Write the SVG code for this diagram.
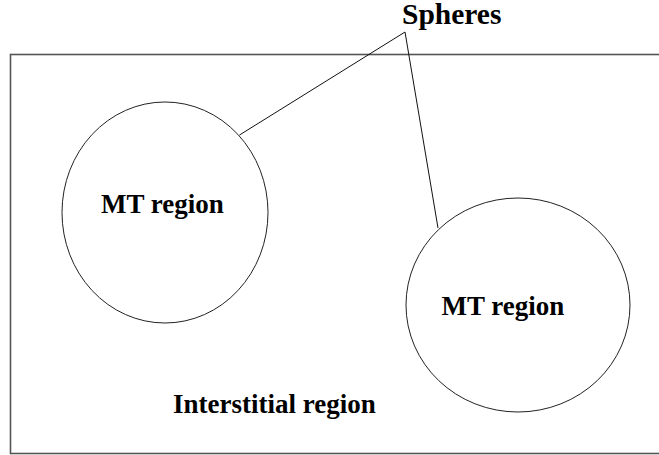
<svg xmlns="http://www.w3.org/2000/svg" width="659" height="455" viewBox="0 0 659 455">
<style>
.lbl{font-family:"Liberation Serif","Times New Roman",serif;font-weight:bold;fill:#000}
.shape{fill:none;stroke:#222;stroke-width:1}
.conn{fill:none;stroke:#111;stroke-width:1}
</style>
<rect width="659" height="455" fill="#fff"/>
<g id="interstitial">
<rect x="10.5" y="54.5" width="660" height="399" fill="none" stroke="#555" stroke-width="1.6"/>
<text class="lbl" x="173" y="413" font-size="27">Interstitial region</text>
</g>
<g id="mt-left">
<ellipse class="shape" cx="165" cy="212.5" rx="103" ry="110.5"/>
<text class="lbl" x="101" y="212.5" font-size="27">MT region</text>
</g>
<g id="mt-right">
<ellipse class="shape" cx="518" cy="305" rx="112" ry="107"/>
<text class="lbl" x="441.5" y="315" font-size="27">MT region</text>
</g>
<g id="spheres">
<text class="lbl" x="402" y="23.5" font-size="29.5">Spheres</text>
</g>
<g id="connectors">
<polyline class="conn" points="239.5,135 405,32 438,228"/>
</g>
</svg>
